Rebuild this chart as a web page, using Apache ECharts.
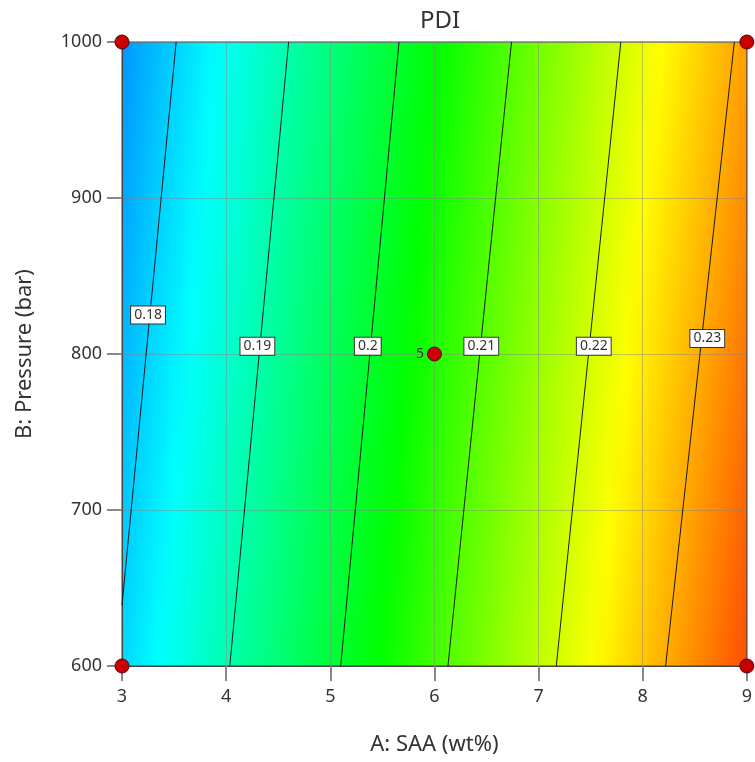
<!DOCTYPE html>
<html>
<head>
<meta charset="utf-8">
<script src="https://cdn.jsdelivr.net/npm/echarts@6/dist/echarts.min.js"></script>
<style>html,body{margin:0;padding:0;background:#fff}#c{width:755px;height:762px}</style>
</head>
<body>
<div id="c"></div>
<script>
// ---- data ----
const aTicks = [3, 4, 5, 6, 7, 8, 9];               // A: SAA (wt%)
const pressureRows = [600, 1000];                   // B: Pressure (bar)
const pdiAt600  = [0.1804, 0.1897, 0.1991, 0.2087, 0.2184, 0.2279, 0.2374];
const pdiAt1000 = [0.1752, 0.1844, 0.1938, 0.2031, 0.2125, 0.2219, 0.2311];

const contourLevels = ['0.18', '0.19', '0.2', '0.21', '0.22', '0.23'];
const contourStartA = [3.00, 4.035, 5.10, 6.13, 7.17, 8.22];
const contourStartB = [639, 600, 600, 600, 600, 600];
const contourEndA   = [3.52, 4.60, 5.66, 6.74, 7.79, 8.88];
const contourEndB   = [1000, 1000, 1000, 1000, 1000, 1000];
const contourLabelA = [3.25, 4.30, 5.36, 6.45, 7.53, 8.62];
const contourLabelB = [825, 805, 805, 805, 805, 810];

const designA = [3, 3, 9, 9, 6];
const designB = [600, 1000, 600, 1000, 800];
const designLabel = ['', '', '', '', '5'];

// ---- styling helpers ----
const palette = ['#0000ff', '#00ffff', '#00ff00', '#ffff00', '#ff0000'];
const colorMin = 0.1635, colorMax = 0.2435;
function colorOf(v) {
  let t = (v - colorMin) / (colorMax - colorMin);
  t = Math.max(0, Math.min(1, t));
  return echarts.color.lerp(t, palette);
}
const FONT = 'Noto Sans';

const cellData = aTicks.slice(0, -1).map((a, i) => [
  a, aTicks[i + 1], pressureRows[0], pressureRows[1],
  pdiAt600[i], pdiAt600[i + 1], pdiAt1000[i], pdiAt1000[i + 1]
]);

function renderCell(params, api) {
  const a0 = api.value(0), a1 = api.value(1), b0 = api.value(2), b1 = api.value(3);
  const vb0 = api.value(4), vb1 = api.value(5), vt0 = api.value(6), vt1 = api.value(7);
  const pBL = api.coord([a0, b0]);
  const pTR = api.coord([a1, b1]);
  const x0 = pBL[0], x1 = pTR[0], yb = pBL[1], yt = pTR[1];
  const N = 80;
  const children = [];
  for (let k = 0; k < N; k++) {
    const f = (k + 0.5) / N;
    const yBot = yb + (yt - yb) * k / N;
    const yTop = yb + (yt - yb) * (k + 1) / N;
    const vl = vb0 + (vt0 - vb0) * f;
    const vr = vb1 + (vt1 - vb1) * f;
    const stops = [];
    for (let s = 0; s <= 6; s++) {
      stops.push({ offset: s / 6, color: colorOf(vl + (vr - vl) * s / 6) });
    }
    children.push({
      type: 'rect',
      shape: { x: x0, y: yTop, width: x1 - x0 + 0.6, height: yBot - yTop + 0.8 },
      style: { fill: new echarts.graphic.LinearGradient(0, 0, 1, 0, stops) },
      silent: true
    });
  }
  return { type: 'group', children: children };
}

const series = [{
  type: 'custom',
  renderItem: renderCell,
  data: cellData,
  clip: true,
  silent: true,
  z: 1
}];

contourLevels.forEach((lv, i) => {
  series.push({
    type: 'line',
    data: [[contourStartA[i], contourStartB[i]], [contourEndA[i], contourEndB[i]]],
    symbol: 'none',
    lineStyle: { color: '#1a1a1a', width: 1 },
    silent: true,
    animation: false,
    z: 4
  });
});

series.push({
  type: 'scatter',
  data: contourLabelA.map((a, i) => ({ value: [a, contourLabelB[i]], name: contourLevels[i] })),
  symbolSize: 0,
  silent: true,
  z: 5,
  itemStyle: { opacity: 1 },
  label: {
    show: true,
    position: 'inside',
    formatter: p => p.name,
    fontFamily: FONT,
    fontSize: 14,
    color: '#333',
    backgroundColor: '#ffffff',
    borderColor: '#333',
    borderWidth: 1,
    padding: [2, 3, 1, 3]
  }
});

series.push({
  type: 'scatter',
  data: designA.map((a, i) => ({ value: [a, designB[i]], name: designLabel[i] })),
  symbolSize: 14,
  clip: false,
  z: 6,
  itemStyle: { color: '#c80000', borderColor: '#5a0000', borderWidth: 1, opacity: 1 },
  label: {
    show: true,
    position: 'left',
    distance: 3,
    formatter: p => p.name,
    fontFamily: FONT,
    fontSize: 14,
    color: '#333'
  }
});

const chart = echarts.init(document.getElementById('c'), null, { renderer: 'canvas' });
chart.setOption({
  animation: false,
  backgroundColor: '#fff',
  title: {
    text: 'PDI',
    left: 435,
    textAlign: 'center',
    top: 4,
    textStyle: { fontFamily: FONT, fontSize: 24, fontWeight: 'normal', color: '#333' }
  },
  grid: {
    left: 122, right: 7, top: 42, bottom: 96,
    show: true, borderColor: '#444', borderWidth: 1,
    backgroundColor: 'transparent', z: 3
  },
  xAxis: {
    type: 'value', min: 3, max: 9, interval: 1, z: 3,
    name: 'A: SAA (wt%)', nameLocation: 'middle', nameGap: 68,
    nameTextStyle: { fontFamily: FONT, fontSize: 22, color: '#333' },
    axisLine: { show: true, onZero: false, lineStyle: { color: '#444' } },
    axisTick: { show: true, length: 15, lineStyle: { color: '#888', width: 2 } },
    axisLabel: { fontFamily: FONT, fontSize: 18, color: '#333', margin: 22 },
    splitLine: { show: true, lineStyle: { color: 'rgba(130,130,130,0.45)', width: 1 } }
  },
  yAxis: {
    type: 'value', min: 600, max: 1000, interval: 100, z: 3,
    name: 'B: Pressure (bar)', nameLocation: 'middle', nameGap: 86,
    nameTextStyle: { fontFamily: FONT, fontSize: 22, color: '#333' },
    axisLine: { show: true, onZero: false, lineStyle: { color: '#444' } },
    axisTick: { show: true, length: 15, lineStyle: { color: '#888', width: 2 } },
    axisLabel: { fontFamily: FONT, fontSize: 18, color: '#333', margin: 20, formatter: v => String(v) },
    splitLine: { show: true, lineStyle: { color: 'rgba(130,130,130,0.45)', width: 1 } }
  },
  series: series
});
</script>
</body>
</html>
